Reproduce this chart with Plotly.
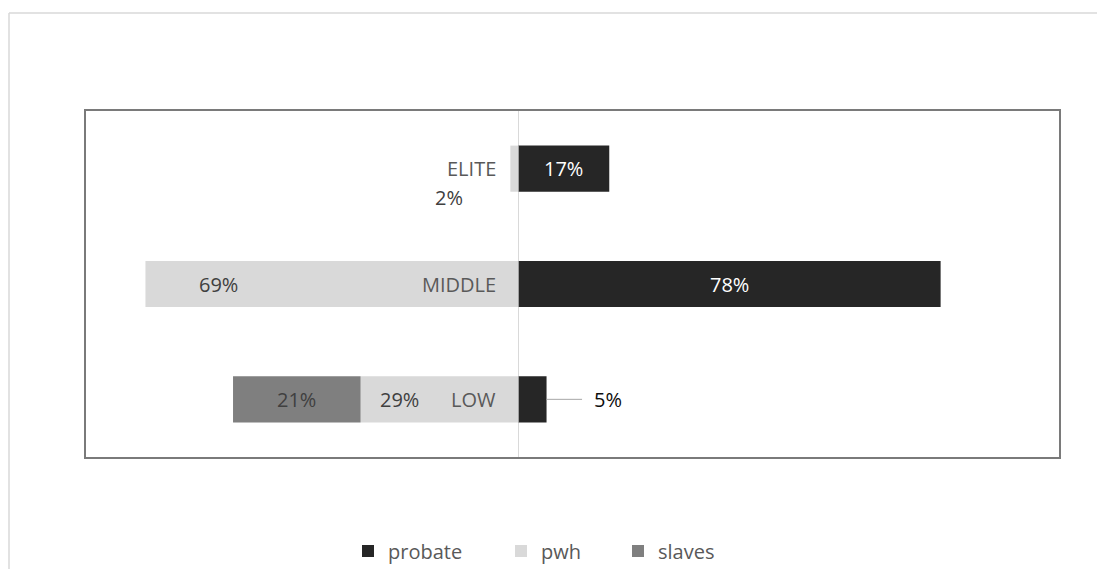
import plotly.graph_objects as go

# ---- data ----
categories = ["ELITE", "MIDDLE", "LOW"]
probate = [16.8, 78.1, 5.2]
pwh = [1.5, 69.0, 29.2]
slaves = [0, 0, 23.6]
probate_labels = ["17%", "78%", "5%"]
pwh_labels = ["2%", "69%", "29%"]
slaves_labels = [None, None, "21%"]

# ---- styles ----
FONT = "Open Sans"
C_PROBATE = "#262626"
C_PWH = "#d9d9d9"
C_SLAVES = "#7f7f7f"
C_AXIS_TEXT = "#595959"

L, R, T, B = 86, 38, 111, 112
W, H = 1097, 569
PW, PH = W - L - R, H - T - B


def px_x(p):
    return (p - L) / PW


def px_y(p):
    return (H - B - p) / PH


fig = go.Figure()
fig.add_trace(go.Bar(y=categories, x=probate, orientation="h", name="probate",
                     marker=dict(color=C_PROBATE, line=dict(width=0)), legend="legend"))
fig.add_trace(go.Bar(y=categories, x=[-v for v in pwh], orientation="h", name="pwh",
                     marker=dict(color=C_PWH, line=dict(width=0)), legend="legend2"))
fig.add_trace(go.Bar(y=categories, x=[-v for v in slaves], orientation="h", name="slaves",
                     marker=dict(color=C_SLAVES, line=dict(width=0)), legend="legend3"))

ann = []
# category labels next to the zero axis
for c in categories:
    ann.append(dict(x=0, y=c, text=c, showarrow=False, xanchor="right", xshift=-20,
                    font=dict(family=FONT, size=20, color=C_AXIS_TEXT)))

# probate labels
prob_style = [dict(mode="center", dx=0, dy=0, color="#ffffff"),
              dict(mode="center", dx=0, dy=0, color="#ffffff"),
              dict(mode="leader", dx=61, dy=0, color="#0d0d0d")]
for c, v, lab, st in zip(categories, probate, probate_labels, prob_style):
    if st["mode"] == "center":
        ann.append(dict(x=v / 2, y=c, text=lab, showarrow=False,
                        font=dict(family=FONT, size=20, color=st["color"])))
    else:
        ann.append(dict(x=v, y=c, text=lab, showarrow=True, arrowhead=0, arrowwidth=1,
                        arrowcolor="#a6a6a6", ax=st["dx"], ay=st["dy"], startstandoff=10,
                        font=dict(family=FONT, size=20, color=st["color"])))

# pwh labels (manually offset from bar centre, as in the original)
pwh_shift = [(-65, -29), (-113, 0), (-40, 0)]
for c, v, lab, (dx, dy) in zip(categories, pwh, pwh_labels, pwh_shift):
    ann.append(dict(x=-v / 2, y=c, text=lab, showarrow=False, xshift=dx, yshift=dy,
                    font=dict(family=FONT, size=20, color="#404040")))

# slaves labels
for c, v0, v, lab in zip(categories, pwh, slaves, slaves_labels):
    if lab:
        ann.append(dict(x=-(v0 + v / 2), y=c, text=lab, showarrow=False,
                        font=dict(family=FONT, size=20, color="#404040")))

shapes = [
    # outer chart border (top and left edges visible)
    dict(type="line", xref="paper", yref="paper", x0=px_x(9), x1=px_x(1200), y0=px_y(13), y1=px_y(13),
         line=dict(color="#d9d9d9", width=1.5)),
    dict(type="line", xref="paper", yref="paper", x0=px_x(9), x1=px_x(9), y0=px_y(13), y1=px_y(700),
         line=dict(color="#d9d9d9", width=1.5)),
]

leg_common = dict(orientation="h", yanchor="middle", y=px_y(551), xanchor="left",
                  bgcolor="rgba(0,0,0,0)", borderwidth=0,
                  font=dict(family=FONT, size=20, color=C_AXIS_TEXT))

fig.update_layout(
    width=W, height=H,
    margin=dict(l=L, r=R, t=T, b=B, autoexpand=False),
    paper_bgcolor="white", plot_bgcolor="white",
    barmode="relative", bargap=0.6,
    showlegend=True,
    legend=dict(x=px_x(362 - 14), **leg_common),
    legend2=dict(x=px_x(515 - 14), **leg_common),
    legend3=dict(x=px_x(632 - 14), **leg_common),
    xaxis=dict(range=[-80, 100], showticklabels=False, showgrid=False, ticks="",
               zeroline=True, zerolinecolor="#d9d9d9", zerolinewidth=1,
               showline=True, mirror=True, linecolor="#7a7a7a", linewidth=2, fixedrange=True),
    yaxis=dict(categoryorder="array", categoryarray=categories, range=[2.5, -0.5],
               showticklabels=False, showgrid=False, ticks="", zeroline=False,
               showline=True, mirror=True, linecolor="#7a7a7a", linewidth=2, fixedrange=True),
    annotations=ann,
    shapes=shapes,
)

fig.write_html("out.html")
